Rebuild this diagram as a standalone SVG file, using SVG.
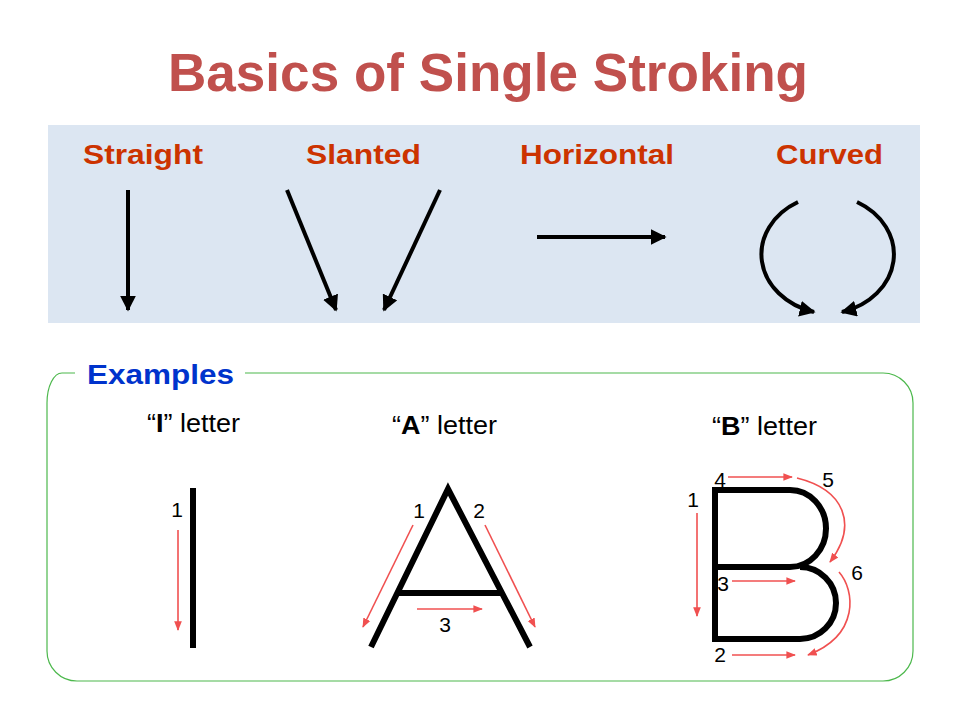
<svg xmlns="http://www.w3.org/2000/svg" width="960" height="720" viewBox="0 0 960 720">
<defs>
<style>
.title{font-family:"Liberation Sans",Arial,sans-serif;font-weight:bold;font-size:53px;fill:#C0504D}
.cat{font-family:"Liberation Sans",Arial,sans-serif;font-weight:bold;font-size:28px;fill:#CC3300}
.ex{font-family:"Liberation Sans",Arial,sans-serif;font-weight:bold;font-size:28px;fill:#0033CC}
.cap{font-family:"Liberation Sans",Arial,sans-serif;font-size:25px;fill:#000}
.num{font-family:"Liberation Sans",Arial,sans-serif;font-size:21px;fill:#000;text-anchor:middle}
.blk{stroke:#000;stroke-width:4;fill:none}
.glyph{stroke:#000;stroke-width:6;fill:none}
.red{stroke:#F05050;stroke-width:1.6;fill:none}
</style>
<marker id="ah" viewBox="0 0 10 10" refX="9" refY="5" markerWidth="4" markerHeight="4" orient="auto" markerUnits="strokeWidth">
<path d="M0,0 L10,5 L0,10 Z" fill="#000"/>
</marker>
<marker id="rh" viewBox="0 0 10 10" refX="9" refY="5" markerWidth="6" markerHeight="6" orient="auto" markerUnits="strokeWidth">
<path d="M0,1 L10,5 L0,9 Z" fill="#F05050"/>
</marker>
</defs>
<rect width="960" height="720" fill="#fff"/>
<g id="title"><text class="title" x="488" y="91" text-anchor="middle" textLength="640" lengthAdjust="spacingAndGlyphs">Basics of Single Stroking</text></g>
<g id="basics-panel">
<rect x="48" y="125" width="872" height="198" fill="#DCE6F2"/>
<text class="cat" x="83" y="164" textLength="120" lengthAdjust="spacingAndGlyphs">Straight</text>
<text class="cat" x="306" y="164" textLength="115" lengthAdjust="spacingAndGlyphs">Slanted</text>
<text class="cat" x="520" y="164" textLength="154" lengthAdjust="spacingAndGlyphs">Horizontal</text>
<text class="cat" x="776" y="164" textLength="107" lengthAdjust="spacingAndGlyphs">Curved</text>
</g>
<g id="connectors">
<line class="blk" x1="128" y1="190" x2="128" y2="310" marker-end="url(#ah)"/>
<line class="blk" x1="287" y1="190" x2="336" y2="310" marker-end="url(#ah)"/>
<line class="blk" x1="440" y1="190" x2="384" y2="310" marker-end="url(#ah)"/>
<line class="blk" x1="537" y1="237" x2="665" y2="237" marker-end="url(#ah)"/>
<path class="blk" d="M798,202 A72,60 0 0 0 814,312" marker-end="url(#ah)"/>
<path class="blk" d="M857,202 A72,60 0 0 1 842,312" marker-end="url(#ah)"/>
</g>
<g id="examples">
<path d="M75,373 H62 A15,30 0 0 0 47,403 V651 A30,30 0 0 0 77,681 H883 A30,30 0 0 0 913,651 V403 A30,30 0 0 0 883,373 H245" fill="none" stroke="#4CB84C" stroke-width="1.2"/>
<text class="ex" x="87" y="384" textLength="147" lengthAdjust="spacingAndGlyphs">Examples</text>
</g>
<g id="letter-I">
<text class="cap" x="147" y="432" textLength="93" lengthAdjust="spacingAndGlyphs">“<tspan font-weight="bold">I</tspan>” letter</text>
<line class="glyph" x1="193" y1="488" x2="193" y2="648"/>
<line class="red" x1="178" y1="530" x2="178" y2="630" marker-end="url(#rh)"/>
<text class="num" x="177" y="517">1</text>
</g>
<g id="letter-A">
<text class="cap" x="392" y="434" textLength="105" lengthAdjust="spacingAndGlyphs">“<tspan font-weight="bold">A</tspan>” letter</text>
<path class="glyph" d="M371,647 L448,489 L530,647" stroke-linejoin="miter"/>
<line class="glyph" x1="398" y1="593" x2="502" y2="593"/>
<line class="red" x1="413" y1="525" x2="363" y2="627" marker-end="url(#rh)"/>
<line class="red" x1="485" y1="525" x2="535" y2="627" marker-end="url(#rh)"/>
<line class="red" x1="417" y1="609" x2="482" y2="609" marker-end="url(#rh)"/>
<text class="num" x="419" y="518">1</text>
<text class="num" x="479" y="518">2</text>
<text class="num" x="445" y="632">3</text>
</g>
<g id="letter-B">
<text class="cap" x="712" y="435" textLength="105" lengthAdjust="spacingAndGlyphs">“<tspan font-weight="bold">B</tspan>” letter</text>
<path class="glyph" d="M715,567 V490 H790 A36,38.5 0 0 1 790,567 H715 V639 H800" stroke-linejoin="miter"/>
<path class="glyph" d="M800,567 A36,36 0 0 1 800,639"/>
<line class="red" x1="697" y1="513" x2="697" y2="616" marker-end="url(#rh)"/>
<line class="red" x1="728" y1="477" x2="792" y2="477" marker-end="url(#rh)"/>
<line class="red" x1="732" y1="581" x2="795" y2="581" marker-end="url(#rh)"/>
<line class="red" x1="732" y1="655" x2="795" y2="655" marker-end="url(#rh)"/>
<path class="red" d="M797,478 C845,490 858,525 830,562" marker-end="url(#rh)"/>
<path class="red" d="M839,572 C855,590 860,635 808,655" marker-end="url(#rh)"/>
<text class="num" x="720" y="487">4</text>
<text class="num" x="693" y="507">1</text>
<text class="num" x="828" y="487">5</text>
<text class="num" x="857" y="580">6</text>
<text class="num" x="723" y="591">3</text>
<text class="num" x="720" y="662">2</text>
</g>
</svg>
